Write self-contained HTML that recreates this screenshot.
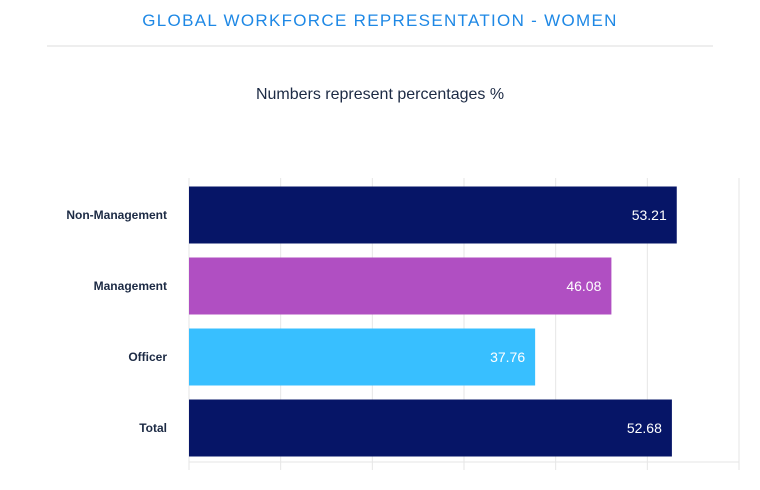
<!DOCTYPE html>
<html><head><meta charset="utf-8"><style>
body{margin:0;width:760px;height:490px;background:#fff;font-family:"Liberation Sans",sans-serif;overflow:hidden}
#title{position:absolute;top:11px;left:0;width:760px;text-align:center;color:#1e88e5;font-size:17px;letter-spacing:1.3px}
#rule{position:absolute;top:45px;left:47px;width:666px;height:2px;background:#eee}
#sub{position:absolute;top:86px;left:0;width:760px;text-align:center;color:#1c2a44;font-size:16px}
svg{position:absolute;left:0;top:0}
</style></head><body>
<div id="title">GLOBAL WORKFORCE REPRESENTATION - WOMEN</div>
<div id="rule"></div>
<div id="sub">Numbers represent percentages %</div>
<svg id="chart" width="760" height="490"></svg>
<script>
const categories=["Non-Management","Management","Officer","Total"];
const values=[53.21,46.08,37.76,52.68];
const colors=["#061567","#b04fc2","#38bfff","#061567"];
const ticks=[0,10,20,30,40,50,60];
const svgEl=document.getElementById('chart');
const NS='http://www.w3.org/2000/svg';
const x0=189,x1=739,xmax=60,yTop=178,yBottom=462;
const xs=v=>x0+v/xmax*(x1-x0);
const band=(yBottom-yTop)/categories.length;
function mk(t,a){const e=document.createElementNS(NS,t);for(const k in a)e.setAttribute(k,a[k]);svgEl.appendChild(e);return e;}
ticks.forEach(t=>{
 const g=mk('line',{x1:xs(t),x2:xs(t),y1:yTop,y2:yBottom+8,stroke:'#e6e6e6','stroke-width':1});
 
 
});
const ax=mk('line',{x1:x0,x2:x1,y1:yBottom,y2:yBottom,stroke:'#e6e6e6','stroke-width':1});


categories.forEach((c,i)=>{
 const y=yTop+i*band+8.5, h=band-14;
 const r=mk('rect',{x:x0,y:y,width:xs(values[i])-x0,height:h,fill:colors[i]});
 
 
 const v=mk('text',{x:xs(values[i])-10,y:y+h/2+5,'text-anchor':'end',fill:'#fff','font-size':14});
 v.textContent=values[i].toFixed(2);
 
 
 const l=mk('text',{x:167,y:y+h/2+4,'text-anchor':'end',fill:'#1c2a44','font-size':12,'font-weight':'bold'});
 l.textContent=c;
 
 
});
</script>
</body></html>
